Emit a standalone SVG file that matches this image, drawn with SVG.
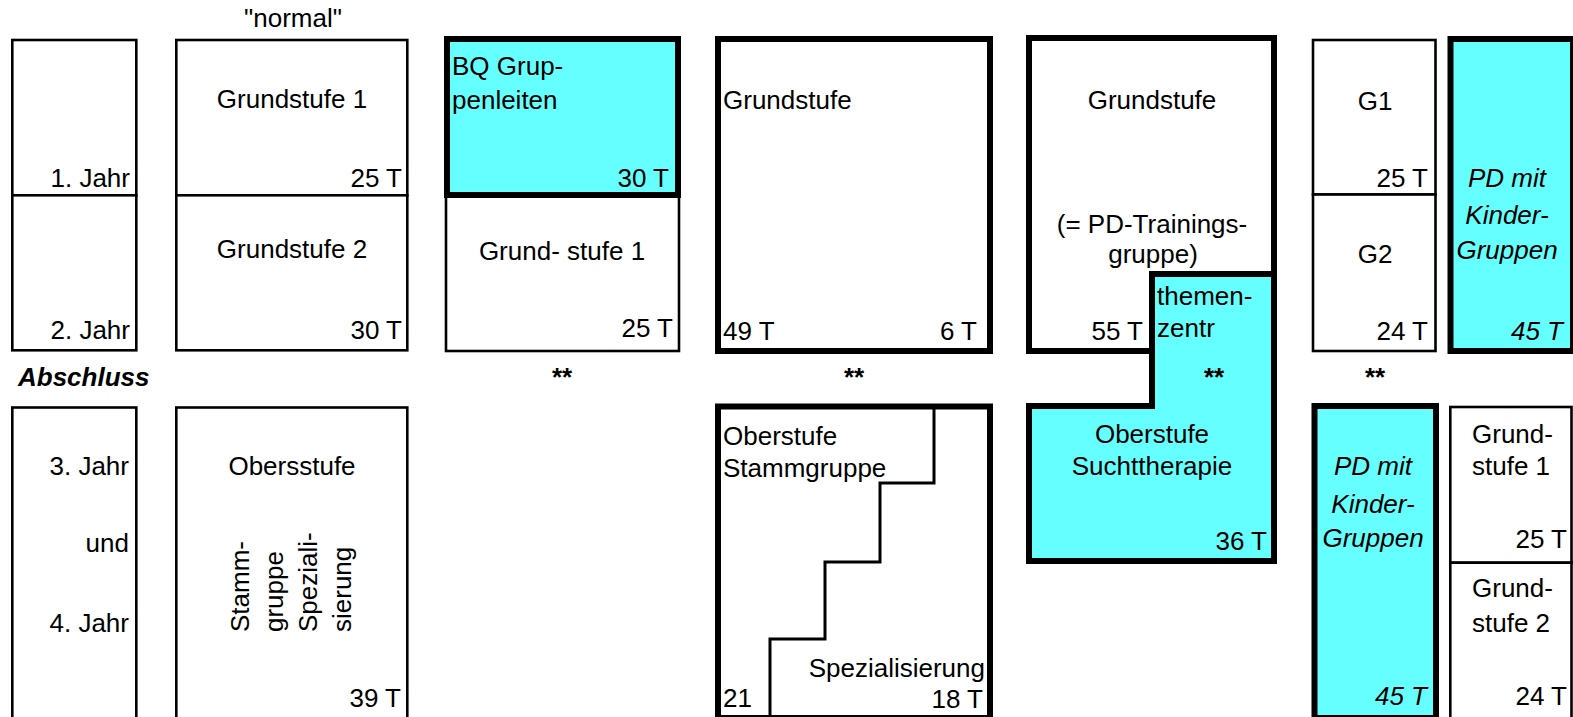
<svg xmlns="http://www.w3.org/2000/svg" width="1573" height="717" viewBox="0 0 1573 717">
<style>
.thin{fill:#ffffff;stroke:#000000;stroke-width:2.6}
.thick{fill:#ffffff;stroke:#000000;stroke-width:6}
.cyan{fill:#66ffff}
.ln{fill:none;stroke:#000000;stroke-width:3}
text{font-family:"Liberation Sans",Arial,sans-serif;font-size:26px;fill:#000000}
.m{text-anchor:middle}
.e{text-anchor:end}
.i{font-style:italic}
.b{font-weight:bold}
</style>
<rect x="0" y="0" width="1573" height="717" fill="#ffffff"/>

<text class="m" x="293" y="27">"normal"</text>

<g id="years-top">
<rect class="thin" x="12.3" y="40" width="124" height="155.3"/>
<rect class="thin" x="12.3" y="195.3" width="124" height="155"/>
<text class="e" x="130" y="187">1. Jahr</text>
<text class="e" x="130" y="339">2. Jahr</text>
</g>

<g id="normal-top">
<rect class="thin" x="176.3" y="40" width="231" height="155.3"/>
<rect class="thin" x="176.3" y="195.3" width="231" height="155"/>
<text class="m" x="292" y="108">Grundstufe 1</text>
<text class="e" x="402" y="187">25 T</text>
<text class="m" x="292" y="258">Grundstufe 2</text>
<text class="e" x="402" y="339">30 T</text>
</g>

<g id="bq">
<rect class="thin" x="446" y="195" width="233" height="156"/>
<rect class="thick cyan" x="447" y="39" width="231" height="156"/>
<text x="452" y="75">BQ Grup-</text>
<text x="452" y="109">penleiten</text>
<text class="e" x="669" y="187">30 T</text>
<text class="m" x="562" y="260">Grund- stufe 1</text>
<text class="e" x="673" y="337">25 T</text>
</g>

<g id="grundstufe-col4">
<rect class="thick" x="718" y="39" width="272" height="312"/>
<text x="723" y="109">Grundstufe</text>
<text x="723" y="340">49 T</text>
<text class="e" x="977" y="340">6 T</text>
</g>

<g id="grundstufe-col5">
<rect class="thick" x="1029" y="38" width="245" height="313"/>
<text class="m" x="1152" y="109">Grundstufe</text>
<text class="m" x="1152" y="233">(= PD-Trainings-</text>
<text class="m" x="1153" y="263">gruppe)</text>
<text class="e" x="1143" y="340">55 T</text>
</g>

<g id="sucht">
<path class="thick cyan" d="M1152,274 H1274 V561 H1029 V406 H1152 Z"/>
<text x="1157" y="305">themen-</text>
<text x="1157" y="337">zentr</text>
<text class="m" x="1152" y="443">Oberstufe</text>
<text class="m" x="1152" y="475">Suchttherapie</text>
<text class="e" x="1267" y="550">36 T</text>
</g>

<g id="g-top">
<rect class="thin" x="1313" y="40" width="122.5" height="154.5"/>
<rect class="thin" x="1313" y="194.5" width="122.5" height="156.5"/>
<text class="m" x="1375" y="110">G1</text>
<text class="e" x="1428" y="187">25 T</text>
<text class="m" x="1375" y="263">G2</text>
<text class="e" x="1428" y="340">24 T</text>
</g>

<g id="pd-top">
<rect class="thick cyan" x="1450.5" y="39" width="122.5" height="312"/>
<text class="m i" x="1507" y="187">PD mit</text>
<text class="m i" x="1507" y="224">Kinder-</text>
<text class="m i" x="1507" y="259">Gruppen</text>
<text class="e i" x="1563" y="340">45 T</text>
</g>

<g id="abschluss">
<text class="b i" x="18" y="386">Abschluss</text>
<text class="b m" x="562" y="386">**</text>
<text class="b m" x="854" y="386">**</text>
<text class="b m" x="1214" y="386">**</text>
<text class="b m" x="1375" y="386">**</text>
</g>

<g id="years-bottom">
<rect class="thin" x="12.3" y="407.5" width="124" height="320"/>
<text class="e" x="129" y="475">3. Jahr</text>
<text class="e" x="129" y="552">und</text>
<text class="e" x="129" y="632">4. Jahr</text>
</g>

<g id="obersstufe">
<rect class="thin" x="176.3" y="407.5" width="231" height="320"/>
<text class="m" x="292" y="475">Obersstufe</text>
<text transform="translate(249,632) rotate(-90)">Stamm-</text>
<text transform="translate(283,632) rotate(-90)">gruppe</text>
<text transform="translate(317,632) rotate(-90)">Speziali-</text>
<text transform="translate(351,632) rotate(-90)">sierung</text>
<text class="e" x="401" y="707">39 T</text>
</g>

<g id="stamm-spez">
<rect class="thick" x="718" y="406.5" width="272" height="311.5"/>
<path class="ln" d="M934,406.5 V483 H880 V562 H825 V639 H770 V718"/>
<text x="723" y="445">Oberstufe</text>
<text x="723" y="477">Stammgruppe</text>
<text class="e" x="985" y="677">Spezialisierung</text>
<text x="723" y="707">21</text>
<text class="e" x="983" y="708">18 T</text>
</g>

<g id="pd-bottom">
<rect class="thick cyan" x="1314.5" y="406" width="121.5" height="312"/>
<text class="m i" x="1373" y="475">PD mit</text>
<text class="m i" x="1373" y="513">Kinder-</text>
<text class="m i" x="1373" y="547">Gruppen</text>
<text class="e i" x="1427" y="705">45 T</text>
</g>

<g id="grund-bottom">
<rect class="thin" x="1450.3" y="407" width="121.2" height="155.7"/>
<rect class="thin" x="1450.3" y="562.7" width="121.2" height="170"/>
<text x="1472" y="443">Grund-</text>
<text x="1472" y="475">stufe 1</text>
<text class="e" x="1567" y="548">25 T</text>
<text x="1472" y="597">Grund-</text>
<text x="1472" y="632">stufe 2</text>
<text class="e" x="1567" y="705">24 T</text>
</g>
</svg>
